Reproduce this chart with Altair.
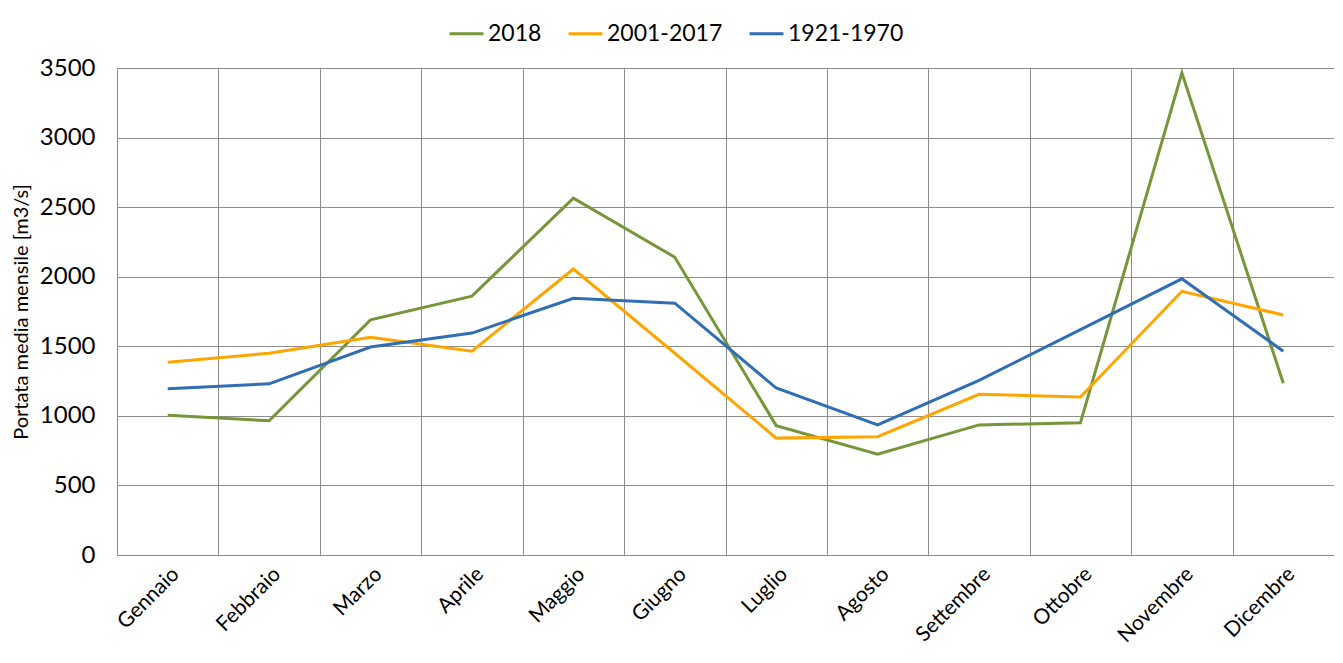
import altair as alt
import pandas as pd

months = ["Gennaio", "Febbraio", "Marzo", "Aprile", "Maggio", "Giugno",
          "Luglio", "Agosto", "Settembre", "Ottobre", "Novembre", "Dicembre"]
series_names = ["2018", "2001-2017", "1921-1970"]
v2018 = [1005, 965, 1690, 1860, 2565, 2140, 930, 725, 935, 950, 3465, 1235]
v2001_2017 = [1385, 1450, 1565, 1465, 2055, 1450, 840, 850, 1155, 1135, 1895, 1725]
v1921_1970 = [1195, 1230, 1495, 1595, 1845, 1810, 1200, 935, 1255, 1620, 1985, 1465]
colors = ["#77963A", "#FFA500", "#2F6DB5"]
y_ticks = [0, 500, 1000, 1500, 2000, 2500, 3000, 3500]

rows = []
for name, vals in zip(series_names, [v2018, v2001_2017, v1921_1970]):
    for m, v in zip(months, vals):
        rows.append({"Mese": m, "Serie": name, "Portata": v})
df = pd.DataFrame(rows)

FONT = "Lato"

chart = alt.Chart(df).mark_line(strokeWidth=3).encode(
    x=alt.X("Mese:N", sort=months,
            scale=alt.Scale(paddingInner=0, paddingOuter=0),
            axis=alt.Axis(title=None, grid=True, tickBand="extent", ticks=False,
                          labelAngle=-45, labelFontSize=21, labelFont=FONT,
                          labelColor="#000000", labelPadding=8,
                          domainColor="#8C8C8C", gridColor="#8C8C8C",
                          gridOpacity=1, gridWidth=1)),
    y=alt.Y("Portata:Q", scale=alt.Scale(domain=[0, 3500], nice=False),
            axis=alt.Axis(title="Portata media mensile [m3/s]", values=y_ticks,
                          format="d", ticks=False, domain=False,
                          labelFontSize=24, labelFont=FONT, labelColor="#000000",
                          labelPadding=22, titleFontSize=20, titleFont=FONT,
                          titleFontWeight="normal", titleColor="#000000",
                          titlePadding=8, gridColor="#8C8C8C", gridOpacity=1,
                          gridWidth=1)),
    color=alt.Color("Serie:N",
                    scale=alt.Scale(domain=series_names, range=colors),
                    sort=series_names,
                    legend=alt.Legend(title=None, orient="none", direction="horizontal",
                                      legendX=331, legendY=-53,
                                      symbolType="stroke", symbolStrokeWidth=3,
                                      symbolSize=1150, labelFontSize=23,
                                      labelFont=FONT, labelColor="#000000",
                                      labelOffset=3, columnPadding=20)),
).properties(
    width=1217, height=487,
    padding={"left": 3, "right": 0, "top": 7, "bottom": 0},
).configure_view(stroke=None)

chart.save("out.html", embed_options={"renderer": "svg", "actions": False})
